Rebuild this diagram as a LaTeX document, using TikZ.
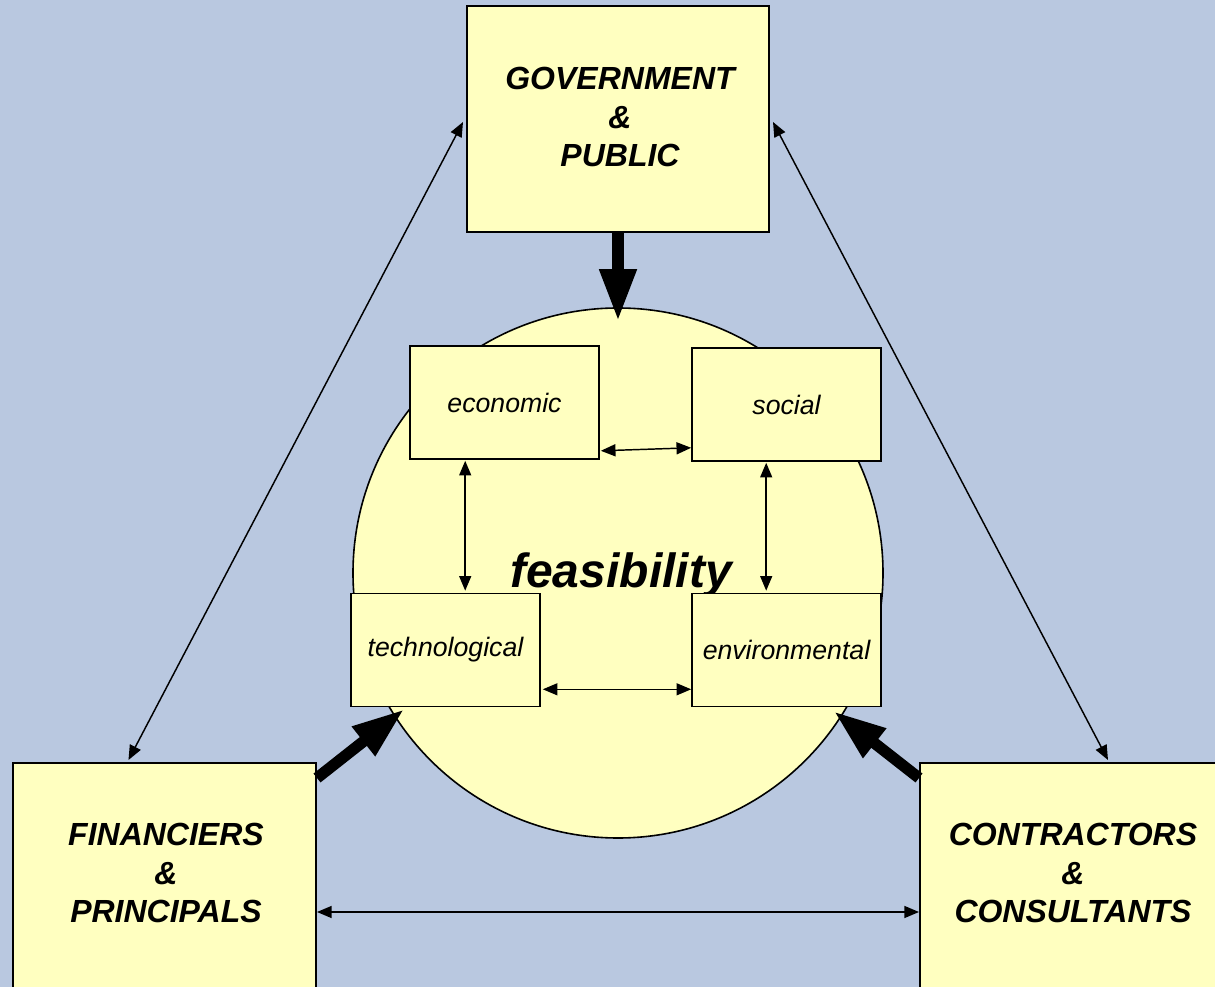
\documentclass[tikz,border=0pt]{standalone}
\usepackage{fontspec}
\setmainfont{Liberation Sans}
\usetikzlibrary{arrows.meta,calc}
\definecolor{bgblue}{HTML}{B9C8E0}
\definecolor{boxyel}{HTML}{FFFFC0}
\begin{document}
\begin{tikzpicture}[x=0.75pt,y=-0.75pt,
  bigbox/.style={draw=black,line width=1.5pt,fill=boxyel,inner sep=0pt},
  smallbox/.style={draw=black,line width=1.2pt,fill=boxyel,minimum width=189*0.75pt,minimum height=113*0.75pt,inner sep=0pt,font=\fontsize{20}{24}\selectfont\itshape},
  bigtext/.style={align=center,font=\fontsize{24}{28.9}\selectfont\bfseries\itshape},
  thin/.style={line width=1.1pt,{Triangle[length=11pt,width=9pt]}-{Triangle[length=11pt,width=9pt]}},
  thick/.style={line width=8.5pt,-{Triangle[length=39pt,width=26pt]}}]
\useasboundingbox (0,0) rectangle (1215,987);
\clip (0,0) rectangle (1215,987);
\fill[bgblue] (0,0) rectangle (1215,987);
% circle
\node[circle,draw=black,line width=1.2pt,fill=boxyel,minimum size=530*0.75pt,inner sep=0pt] (circ) at (618,573) {};
\node[font=\fontsize{36}{40}\selectfont\bfseries\itshape] (feas) at (621,575) {feasibility};
% small boxes
\node[smallbox] (eco) at (504.5,402.5) {economic};
\node[smallbox] (soc) at (786.5,404.5) {social};
\node[smallbox] (tech) at (445.5,650) {technological};
\node[smallbox] (env) at (786.5,650) {environmental};
% big boxes
\node[bigbox,minimum width=302*0.75pt,minimum height=226*0.75pt] (gov) at (618,119) {};
\node[bigtext] (govtext) at (620,117) {GOVERNMENT\\\&\\PUBLIC};
\node[bigbox,minimum width=303*0.75pt,minimum height=260*0.75pt,anchor=north] (fin) at (164.5,762) {};
\node[bigtext] (fintext) at (166,873) {FINANCIERS\\\&\\PRINCIPALS};
\node[bigbox,minimum width=306*0.75pt,minimum height=260*0.75pt,anchor=north] (con) at (1073,762) {};
\node[bigtext] (context) at (1073,873) {CONTRACTORS\\\&\\CONSULTANTS};
% thin arrows
\draw[thin] ($(gov.north west)+(-3,117)$) -- ($(fin.north)+(-36,-2)$);
\draw[thin] ($(gov.north east)+(3,117)$) -- ($(con.north)+(35,-2)$);
\draw[thin] ($(fin.north east)+(0,150)$) -- ($(con.north west)+(0,150)$);
\draw[thin] ($(eco.south east)+(1,-9)$) -- ($(soc.south west)+(0,-14)$);
\draw[thin] ($(eco.south west)+(56,1)$) -- ($(tech.north west)+(115,-2)$);
\draw[thin] ($(soc.south west)+(75,1)$) -- ($(env.north west)+(75,-2)$);
\draw[thin] ($(tech.south east)+(2,-18)$) -- ($(env.south west)+(0,-18)$);
% thick arrows
\draw[thick] (gov.south) -- ($(circ.north)+(0,14)$);
\draw[thick] ($(fin.north east)+(0,16)$) -- ($(tech.south west)+(54,2)$);
\draw[thick] ($(con.north west)+(0,16)$) -- ($(env.south east)+(-48,4)$);
\end{tikzpicture}
\end{document}
